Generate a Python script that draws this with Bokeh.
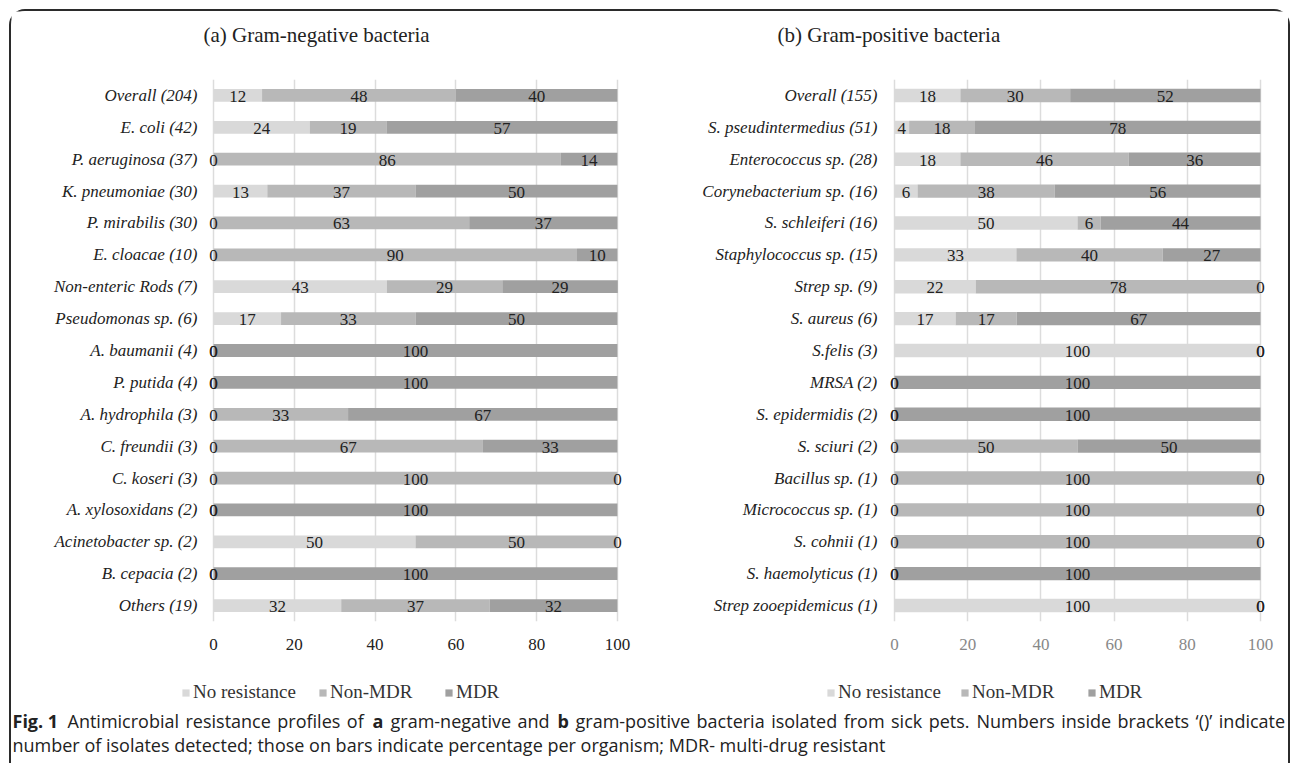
from bokeh.plotting import figure
from bokeh.models import (ColumnDataSource, FactorRange, Range1d, Label, LabelSet,
                          Legend, LegendItem, FixedTicker)
from bokeh.layouts import column, row
from bokeh.embed import file_html
from bokeh.resources import INLINE
from bokeh.core.properties import value

SERIF = "Liberation Serif"
SANS = "Open Sans"
COLORS = ["#d9d9d9", "#b8b8b8", "#a0a0a0"]
SERIES = ["No resistance", "Non-MDR", "MDR"]
TICKS = [0, 20, 40, 60, 80, 100]

# ---- (a) Gram-negative bacteria (percentages) ----
neg_cats = ["Overall (204)", "E. coli (42)", "P. aeruginosa (37)", "K. pneumoniae (30)",
            "P. mirabilis (30)", "E. cloacae (10)", "Non-enteric Rods (7)", "Pseudomonas sp. (6)",
            "A. baumanii (4)", "P. putida (4)", "A. hydrophila (3)", "C. freundii (3)",
            "C. koseri (3)", "A. xylosoxidans (2)", "Acinetobacter sp. (2)", "B. cepacia (2)",
            "Others (19)"]
neg_none = [12, 23.8, 0, 13.3, 0, 0, 42.9, 16.7, 0, 0, 0, 0, 0, 0, 50, 0, 31.6]
neg_non = [48, 19.0, 86, 36.7, 63.3, 90, 28.6, 33.3, 0, 0, 33.3, 66.7, 100, 0, 50, 0, 36.8]
neg_mdr = [40, 57.2, 14, 50, 36.7, 10, 28.6, 50, 100, 100, 66.7, 33.3, 0, 100, 0, 100, 31.6]

# ---- (b) Gram-positive bacteria (percentages) ----
pos_cats = ["Overall (155)", "S. pseudintermedius (51)", "Enterococcus sp. (28)",
            "Corynebacterium sp. (16)", "S. schleiferi (16)", "Staphylococcus sp. (15)",
            "Strep sp. (9)", "S. aureus (6)", "S.felis (3)", "MRSA (2)", "S. epidermidis (2)",
            "S. sciuri (2)", "Bacillus sp. (1)", "Micrococcus sp. (1)", "S. cohnii (1)",
            "S. haemolyticus (1)", "Strep zooepidemicus (1)"]
pos_none = [18, 4, 18, 6.3, 50, 33.3, 22.2, 16.7, 100, 0, 0, 0, 0, 0, 0, 0, 100]
pos_non = [30, 18, 46, 37.5, 6.3, 40, 77.8, 16.7, 0, 0, 0, 50, 100, 100, 100, 0, 0]
pos_mdr = [52, 78, 36, 56.2, 43.7, 26.7, 0, 66.6, 0, 100, 100, 50, 0, 0, 0, 100, 0]

GAP = " \u200a"
caption_line1 = [("Fig.\u00a01", "bold", 12),
                 (GAP.join(["Antimicrobial", "resistance", "profiles", "of"]), "normal", 67),
                 ("a", "bold", 372),
                 (GAP.join(["gram-negative", "and"]), "normal", 390),
                 ("b", "bold", 557),
                 (GAP.join(["gram-positive", "bacteria", "isolated", "from", "sick", "pets."]), "normal", 575),
                 (GAP.join(["Numbers", "inside", "brackets", "\u2018()\u2019", "indicate"]), "normal", 976)]
caption_line2 = "number of isolates detected; those on bars indicate percentage per organism; MDR- multi-drug resistant"

OX, OY = 11, 11          # page position of the layout content (inside the frame border)
W = 1277
HEAD_H, PANEL_H, FOOT_H = 50, 604, 98
PAD = 3                  # x padding (in % units) so that end labels are not clipped
FS = "17px"
CAP_FS = "18px"


def make_panel(cats, none, non, mdr, width, bl, br, bt, fh, bar_h, tick_color, ystand):
    p = figure(y_range=FactorRange(*cats[::-1]), x_range=Range1d(-PAD, 100 + PAD),
               width=width, height=PANEL_H, output_backend="svg", toolbar_location=None,
               min_border_left=bl, min_border_right=br, min_border_top=bt,
               min_border_bottom=PANEL_H - bt - fh)
    src = ColumnDataSource(dict(cat=cats, none=none, non=non, mdr=mdr))
    p.hbar_stack(["none", "non", "mdr"], y="cat", height=bar_h,
                 fill_color=COLORS, line_color=None, source=src)

    lx, ly, lt = [], [], []
    for c, a, b, m in zip(cats, none, non, mdr):
        s = 0
        for v in (a, b, m):
            lx.append(s + v / 2)
            ly.append(c)
            lt.append(f"{v:.0f}")
            s += v
    lsrc = ColumnDataSource(dict(x=lx, y=ly, t=lt))
    p.add_layout(LabelSet(x="x", y="y", text="t", source=lsrc,
                          text_font=value(SERIF), text_font_size=value(FS),
                          text_color=value("#222222"), text_align=value("center"),
                          text_baseline=value("middle"), y_offset=-1))

    p.xaxis.ticker = FixedTicker(ticks=TICKS)
    for ax in (p.xaxis, p.yaxis):
        ax.axis_line_color = None
        ax.major_tick_line_color = None
        ax.minor_tick_line_color = None
        ax.major_tick_out = 0
        ax.major_tick_in = 0
        ax.minor_tick_out = 0
        ax.major_label_text_font = SERIF
        ax.major_label_text_font_size = FS
    p.xaxis.major_label_text_color = tick_color
    p.xaxis.major_label_standoff = 17
    p.yaxis.major_label_text_color = "#222222"
    p.yaxis.major_label_text_font_style = "italic"
    p.yaxis.major_label_standoff = ystand
    p.ygrid.grid_line_color = None
    p.xgrid.grid_line_color = "#dcdcdc"
    p.xgrid.grid_line_width = 1.5
    p.outline_line_color = None
    return p


# panel (a): frame 201..629 (0% at 213, 100% at 617), rows 78..622
pA = make_panel(neg_cats, neg_none, neg_non, neg_mdr, 639, 190, 21, 17, 544, 0.40, "#222222", 4)
# panel (b): frame 883..1271 (0% at 894, 100% at 1260), rows 79..621
pB = make_panel(pos_cats, pos_none, pos_non, pos_mdr, 638, 233, 17, 18, 542, 0.42, "#888888", 6)

head = figure(width=W, height=HEAD_H, x_range=Range1d(0, W), y_range=Range1d(HEAD_H, 0),
              output_backend="svg", toolbar_location=None, min_border=0,
              x_axis_location=None, y_axis_location=None)
head.grid.grid_line_color = None
head.outline_line_color = None
for txt, px in (("(a) Gram-negative bacteria", 203), ("(b) Gram-positive bacteria", 777)):
    head.add_layout(Label(x=px - OX, y=34 - OY, text=txt, text_font=SERIF, text_font_size="21px",
                          text_color="#222222", text_baseline="middle"))

foot = figure(width=W, height=FOOT_H, x_range=Range1d(0, W), y_range=Range1d(FOOT_H, 0),
              output_backend="svg", toolbar_location=None, min_border=0,
              x_axis_location=None, y_axis_location=None)
foot.grid.grid_line_color = None
foot.outline_line_color = None
FOOT_TOP = OY + HEAD_H + PANEL_H
# legend proxies (zero-size, invisible) so that the legend can draw its swatches
leg_r = [foot.hbar(y=[0], left=[0], right=[0], height=0, fill_color=c, line_color=None)
         for c in COLORS]
legend_x = [[181, 318, 444], [826, 960, 1087]]
for xs in legend_x:
    for s, r, px in zip(SERIES, leg_r, xs):
        foot.add_layout(Legend(items=[LegendItem(label=s, renderers=[r])],
                               location=(px - OX, FOOT_H - (693 - FOOT_TOP) - 10),
                               label_text_font=SERIF, label_text_font_size="19px",
                               label_text_color="#333333", glyph_width=9, glyph_height=9,
                               label_standoff=3, padding=0, margin=0,
                               border_line_color=None, background_fill_alpha=0,
                               label_height=20))
for txt, style, px in caption_line1:
    foot.add_layout(Label(x=px - OX, y=720 - FOOT_TOP, text=txt, text_font=SANS,
                          text_font_size=CAP_FS, text_font_style=style, text_color="#222222",
                          text_baseline="middle"))
foot.add_layout(Label(x=12 - OX, y=744 - FOOT_TOP, text=caption_line2, text_font=SANS,
                      text_font_size=CAP_FS, text_color="#222222", text_baseline="middle"))

layout = column(head, row(pA, pB), foot,
                styles={"margin": "9px 0 0 9px", "border": "2px solid #2b2b2b",
                        "border-bottom": "none", "border-radius": "16px 16px 0 0"})

open("out.html", "w").write(file_html(layout, INLINE))
